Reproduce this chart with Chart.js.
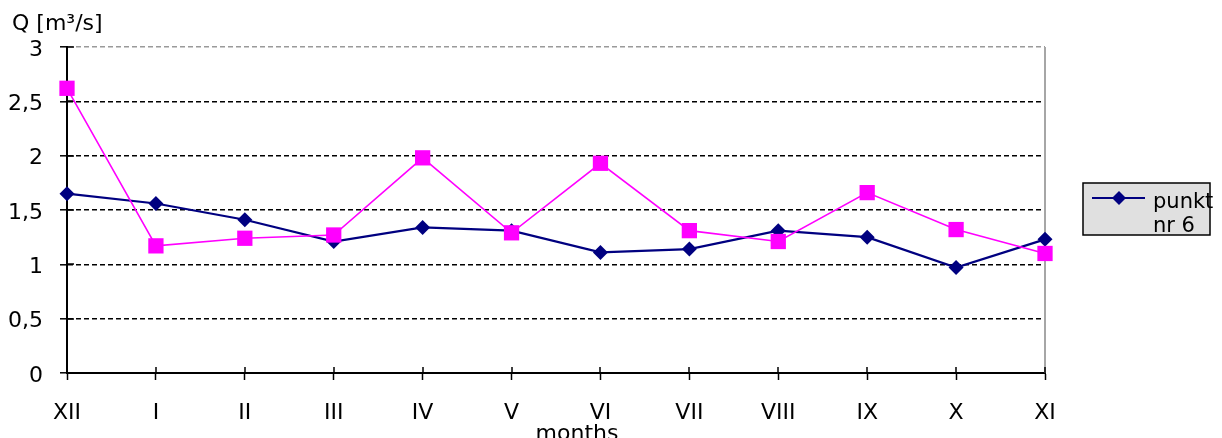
<!DOCTYPE html>
<html>
<head>
<meta charset="utf-8">
<script src="https://cdn.jsdelivr.net/npm/chart.js@4/dist/chart.umd.min.js"></script>
<style>
  html, body { margin: 0; padding: 0; background: #ffffff; }
  #wrap { position: relative; width: 1222px; height: 438px; }
</style>
</head>
<body>
<div id="wrap"><canvas id="c" width="1222" height="438"></canvas></div>
<script>
// Monthly discharge Q [m3/s], hydrological year from December to November
const months = ['XII', 'I', 'II', 'III', 'IV', 'V', 'VI', 'VII', 'VIII', 'IX', 'X', 'XI'];
const punktNr6 = [1.65, 1.56, 1.41, 1.21, 1.34, 1.31, 1.11, 1.14, 1.31, 1.25, 0.97, 1.23];
const seria2   = [2.62, 1.17, 1.24, 1.27, 1.98, 1.29, 1.93, 1.31, 1.21, 1.66, 1.32, 1.10];
const yTicks = [0, 0.5, 1, 1.5, 2, 2.5, 3];

const FONT = '"DejaVu Sans", "Liberation Sans", Arial, sans-serif';

// Frame, inner tick halves, axis titles and the boxed legend
const decor = {
  id: 'decor',
  beforeDatasetsDraw(chart) {
    const { ctx, chartArea: a } = chart;
    ctx.save();
    ctx.strokeStyle = '#a6a6a6';
    ctx.lineWidth = 2;
    ctx.beginPath();
    ctx.moveTo(a.right, a.top);
    ctx.lineTo(a.right, a.bottom);
    ctx.stroke();
    // inner halves of the tick marks
    ctx.strokeStyle = '#000';
    ctx.lineWidth = 1.5;
    const x = chart.scales.x, y = chart.scales.y;
    ctx.beginPath();
    for (let i = 0; i < x.ticks.length; i++) {
      const px = Math.round(x.getPixelForTick(i));
      ctx.moveTo(px, a.bottom);
      ctx.lineTo(px, a.bottom - 6);
    }
    for (let i = 0; i < y.ticks.length; i++) {
      const py = Math.round(y.getPixelForTick(i));
      ctx.moveTo(a.left, py);
      ctx.lineTo(a.left + 7, py);
    }
    ctx.stroke();
    ctx.restore();
  },
  afterDraw(chart) {
    const { ctx } = chart;
    ctx.save();
    ctx.fillStyle = '#000';
    ctx.font = '22px ' + FONT;
    ctx.textBaseline = 'alphabetic';
    ctx.textAlign = 'left';
    ctx.fillText('Q [m\u00B3/s]', 12, 30);
    ctx.textAlign = 'center';
    ctx.fillText('months', 577, 440);

    // legend box for the first series
    const ds = chart.data.datasets[0];
    const bx = 1083, by = 183, bw = 127, bh = 52;
    ctx.fillStyle = '#e0e0e0';
    ctx.fillRect(bx, by, bw, bh);
    ctx.strokeStyle = '#000';
    ctx.lineWidth = 1.5;
    ctx.strokeRect(bx, by, bw, bh);
    const ly = 198, mx = 1119, r = 7;
    ctx.strokeStyle = ds.borderColor;
    ctx.lineWidth = 2;
    ctx.beginPath();
    ctx.moveTo(1092, ly);
    ctx.lineTo(1145, ly);
    ctx.stroke();
    ctx.fillStyle = ds.pointBackgroundColor;
    ctx.beginPath();
    ctx.moveTo(mx - r, ly); ctx.lineTo(mx, ly - r);
    ctx.lineTo(mx + r, ly); ctx.lineTo(mx, ly + r);
    ctx.closePath();
    ctx.fill();
    ctx.fillStyle = '#000';
    ctx.font = '21px ' + FONT;
    ctx.textAlign = 'left';
    const words = ds.label.split(' ');
    ctx.fillText(words[0], 1153, 208);
    ctx.fillText(words.slice(1).join(' '), 1153, 232);
    ctx.restore();
  }
};

new Chart(document.getElementById('c'), {
  type: 'line',
  plugins: [decor],
  data: {
    labels: months,
    datasets: [
      {
        label: 'punkt nr 6',
        data: punktNr6,
        borderColor: '#000080',
        backgroundColor: '#000080',
        pointBackgroundColor: '#000080',
        pointBorderColor: '#000080',
        borderWidth: 2.2,
        pointStyle: 'rectRot',
        pointRadius: 7.5,
        pointBorderWidth: 0,
        tension: 0,
        clip: false,
        order: 1
      },
      {
        label: 'seria 2',
        data: seria2,
        borderColor: '#ff00ff',
        backgroundColor: '#ff00ff',
        pointBackgroundColor: '#ff00ff',
        pointBorderColor: '#ff00ff',
        borderWidth: 1.6,
        pointStyle: 'rect',
        pointRadius: 10.8,
        pointBorderWidth: 0,
        tension: 0,
        clip: false,
        order: 0
      }
    ]
  },
  options: {
    responsive: false,
    animation: false,
    events: [],
    layout: { padding: { left: 0, right: 177, top: 47, bottom: 0 } },
    plugins: { legend: { display: false }, tooltip: { enabled: false } },
    scales: {
      x: {
        type: 'category',
        offset: false,
        afterFit(s) { s.height = 65; },
        grid: {
          drawOnChartArea: false,
          drawTicks: true,
          tickLength: 7,
          tickColor: '#000',
          tickWidth: 1.5
        },
        border: { display: true, color: '#000', width: 2 },
        ticks: {
          color: '#000',
          font: { family: FONT, size: 22 },
          padding: 20,
          maxRotation: 0,
          autoSkip: false
        }
      },
      y: {
        min: 0,
        max: 3,
        afterFit(s) { s.width = 67; },
        afterBuildTicks(s) { s.ticks = yTicks.map(v => ({ value: v })); },
        grid: {
          drawOnChartArea: true,
          drawTicks: true,
          tickLength: 7,
          tickColor: '#000',
          tickWidth: 1.5,
          lineWidth: 1.6,
          color(c) {
            if (c.tick && c.tick.value === 0) return 'rgba(0,0,0,0)';
            if (c.tick && c.tick.value === 3) return '#9a9a9a';
            return '#000';
          }
        },
        border: { display: true, color: '#000', width: 2, dash: [5, 3] },
        ticks: {
          color: '#000',
          font: { family: FONT, size: 22 },
          padding: 17,
          labelOffset: 3,
          callback: v => String(v).replace('.', ',')
        }
      }
    }
  }
});
</script>
</body>
</html>
